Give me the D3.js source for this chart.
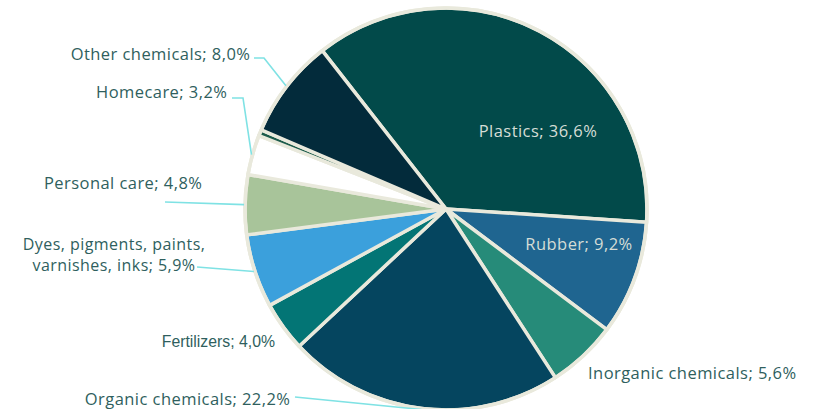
<!DOCTYPE html>
<html>
<head>
<meta charset="utf-8">
<script src="https://cdn.jsdelivr.net/npm/d3@7"></script>
<style>
  html, body { margin: 0; padding: 0; background: #ffffff; }
  svg { display: block; }
</style>
</head>
<body>
<svg id="chart" width="818" height="409"></svg>
<script>
// Chemical sales by segment (share of total, %)
const categories = [
  "Plastics", "Rubber", "Inorganic chemicals", "Organic chemicals",
  "Fertilizers", "Dyes, pigments, paints, varnishes, inks",
  "Personal care", "Homecare", "Other", "Other chemicals"
];
const shares = [36.6, 9.2, 5.6, 22.2, 4.0, 5.9, 4.8, 3.2, 0.5, 8.0];
const labelLines = [
  ["Plastics; 36,6%"],
  ["Rubber; 9,2%"],
  ["Inorganic chemicals; 5,6%"],
  ["Organic chemicals; 22,2%"],
  ["Fertilizers; 4,0%"],
  ["Dyes, pigments, paints,", "varnishes, inks; 5,9%"],
  ["Personal care; 4,8%"],
  ["Homecare; 3,2%"],
  [],
  ["Other chemicals; 8,0%"]
];
const colors = [
  "#024a4a", "#1f6590", "#268b79", "#05455f", "#037575",
  "#3ba0dc", "#a8c49a", "#ffffff", "#1c5b4b", "#032b3b"
];

const svg = d3.select("#chart");
const cx = 446, cy = 209, R = 201;
const g = svg.append("g").attr("transform", `translate(${cx},${cy})`);

const start = -38 * Math.PI / 180;
const pie = d3.pie().sort(null).startAngle(start).endAngle(start + 2 * Math.PI);
const arcs = pie(shares);
const arc = d3.arc().innerRadius(0).outerRadius(R);

g.selectAll("path.slice")
  .data(arcs)
  .join("path")
  .attr("class", "slice")
  .attr("d", arc)
  .attr("fill", (d, i) => colors[i])
  .attr("stroke", "#e9e9dc")
  .attr("stroke-width", 3.5)
  .attr("stroke-linejoin", "round");

// outer rim
g.append("circle").attr("r", R).attr("fill", "none")
  .attr("stroke", "#e9e9dc").attr("stroke-width", 3.5);

// label placement: anchor, text position, optional leader path (elbow then edge)
const layout = {
  0: { x: 538, y: 131, anchor: "middle", inside: true },
  1: { x: 579, y: 244, anchor: "middle", inside: true },
  2: { x: 588, y: 373, anchor: "start" },
  3: { x: 290, y: 399, anchor: "end", leader: [[295, 397]] },
  4: { x: 275, y: 341, anchor: "end", font: "'Liberation Sans', Arial, sans-serif", size: 15.8, ls: 0 },
  5: { x: 114, y: 244, anchor: "middle", lh: 21, size: 16, leader: [[197, 267]] },
  6: { x: 202, y: 183, anchor: "end", leader: [[165, 202]] },
  7: { x: 227, y: 92, anchor: "end", leader: [[232, 98], [243, 98]] },
  9: { x: 250, y: 54, anchor: "end", leader: [[254, 58], [264, 58]] }
};

const textFont = "'Open Sans', 'Noto Sans', sans-serif";

arcs.forEach((d, i) => {
  const L = layout[i];
  if (!L) return;
  const mid = (d.startAngle + d.endAngle) / 2;
  if (L.leader) {
    const edge = [cx + Math.sin(mid) * (R + 1), cy - Math.cos(mid) * (R + 1)];
    const pts = L.leader.concat([edge]);
    svg.append("path")
      .attr("d", d3.line()(pts))
      .attr("fill", "none")
      .attr("stroke", "#7fe2e4")
      .attr("stroke-width", 1.6);
  }
  const lines = labelLines[i];
  const lh = L.lh || 0;
  const ls = L.ls !== undefined ? L.ls : 0.45;
  // each line is its own text element
  lines.forEach((s, k) => {
    svg.append("text")
      .attr("text-anchor", L.anchor)
      .attr("font-family", L.font || textFont)
      .attr("font-size", L.size || 16.5)
      .attr("letter-spacing", ls)
      .attr("fill", L.inside ? "#d5ddd6" : "#2f5f5e")
      .attr("x", L.anchor === "end" ? L.x + ls : L.x)
      .attr("y", L.y + k * lh)
      .attr("dy", "0.35em")
      .text(s);
  });
});
</script>
</body>
</html>
